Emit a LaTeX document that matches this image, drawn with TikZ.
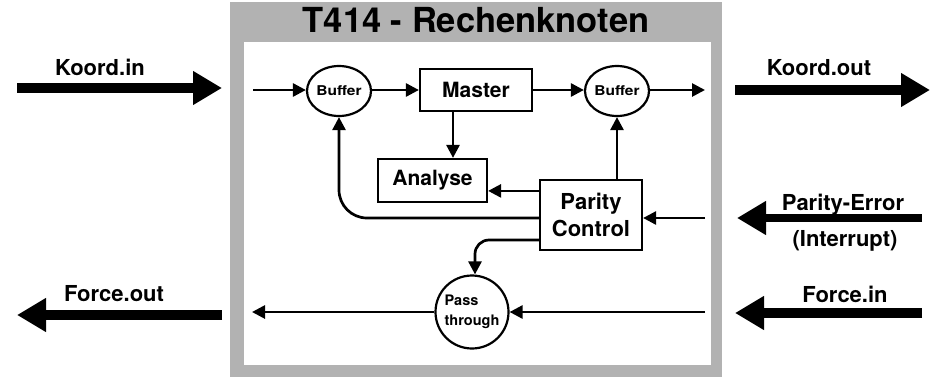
\documentclass[tikz,border=0pt]{standalone}
\usepackage{fontspec}
\setmainfont{TeX Gyre Heros}
\usetikzlibrary{arrows.meta,shapes.geometric}
\tikzset{
  framefill/.style={fill=black!30},
  boxnode/.style={draw, line width=2.2pt, inner sep=0pt, font=\fontsize{21}{25}\selectfont\bfseries},
  bufnode/.style={ellipse, draw, line width=2.2pt, minimum width=62pt, minimum height=50pt, inner sep=0pt,
    font=\fontsize{13.5}{15}\selectfont\bfseries},
  passnode/.style={circle, draw, line width=2.2pt, minimum size=73pt, inner sep=0pt, align=left,
    font=\fontsize{14.5}{20}\selectfont\bfseries},
  flow/.style={line width=2.7pt, -{Triangle[length=13pt,width=13pt]}},
  bigarrow/.style={line width=10pt, -{Triangle[length=29pt,width=32pt]}},
  lbl/.style={anchor=base, inner sep=0pt, font=\fontsize{22}{26}\selectfont\bfseries}
}
\begin{document}
\begin{tikzpicture}[x=1pt,y=-1pt]
\useasboundingbox (0,0) rectangle (932,378);
% frame
\fill[framefill] (230,2) rectangle (722,377);
\fill[white] (244,42) rectangle (711,365);
\node[anchor=base, inner sep=0pt, font=\fontsize{34.5}{40}\selectfont\bfseries] (title) at (476,32) {T414 - Rechenknoten};
% inner nodes
\node[bufnode] (b1) at (339,91) {\scalebox{1.15}[1]{Buffer}};
\node[boxnode, minimum width=112pt, minimum height=42pt] (master) at (476,90) {Master};
\node[bufnode] (b2) at (617,91) {\scalebox{1.15}[1]{Buffer}};
\node[boxnode, minimum width=109pt, minimum height=43pt] (analyse) at (432.5,180.5) {Analyse};
\node[boxnode, minimum width=102pt, minimum height=70pt, align=center,
  font=\fontsize{22}{27}\selectfont\bfseries] (parity) at (591,215) {Parity\\Control};
\node[passnode] (pass) at (472,312) {Pass\\through};
% free ends and helper points
\coordinate (kinS) at (253,90);
\coordinate (koutE) at (705,90);
\coordinate (peS) at (705,218);
\coordinate (finS) at (705,312);
\coordinate (foutE) at (252,312);
\coordinate (ms) at ([xshift=-23pt]master.south);
\coordinate (pa) at ([yshift=-12pt]parity.north west);
\coordinate (pb) at ([yshift=-3pt]parity.west);
\coordinate (pc) at ([yshift=-25pt]parity.west);
\coordinate (pn) at ([xshift=3pt]pass.north);
% inner connectors
\draw[flow] (kinS) -- (b1.west |- kinS);
\draw[flow] (b1.east |- kinS) -- (master.west);
\draw[flow] (master.east) -- (b2.west |- kinS);
\draw[flow] (b2.east |- kinS) -- (koutE);
\draw[flow] (ms) -- (ms |- analyse.north);
\draw[flow] (pa) -- (analyse.east |- pa);
\draw[flow] (parity.north -| b2) -- (b2.south);
\draw[flow] (peS) -- (parity.east |- peS);
\draw[flow, rounded corners=28pt] (pb) -| (b1.south);
\draw[flow, rounded corners=14pt] (pc) -| (pn);
\draw[flow] (finS) -- (pass.east |- finS);
\draw[flow] (pass.west |- foutE) -- (foutE);
% outer big arrows
\coordinate (kinA) at (17,88);
\coordinate (kinB) at (222,88);
\coordinate (koutA) at (735,90);
\coordinate (koutB) at (930,90);
\coordinate (peA) at (922,218);
\coordinate (peB) at (737,218);
\coordinate (finA) at (922,313);
\coordinate (finB) at (735,313);
\coordinate (foutA) at (222,315);
\coordinate (foutB) at (17,315);
\draw[bigarrow] (kinA) -- (kinB);
\draw[bigarrow] (koutA) -- (koutB);
\draw[bigarrow, line width=8pt] (peA) -- (peB);
\draw[bigarrow] (finA) -- (finB);
\draw[bigarrow] (foutA) -- (foutB);
% labels
\node[lbl] (lkin) at (100,75) {Koord.in};
\node[lbl] (lkout) at (819,75) {Koord.out};
\node[lbl] (lpe) at (843,210) {Parity-Error};
\node[lbl] (lint) at (845,246) {(Interrupt)};
\node[lbl] (lfin) at (845,302) {Force.in};
\node[lbl] (lfout) at (114,301) {Force.out};
\end{tikzpicture}
\end{document}
